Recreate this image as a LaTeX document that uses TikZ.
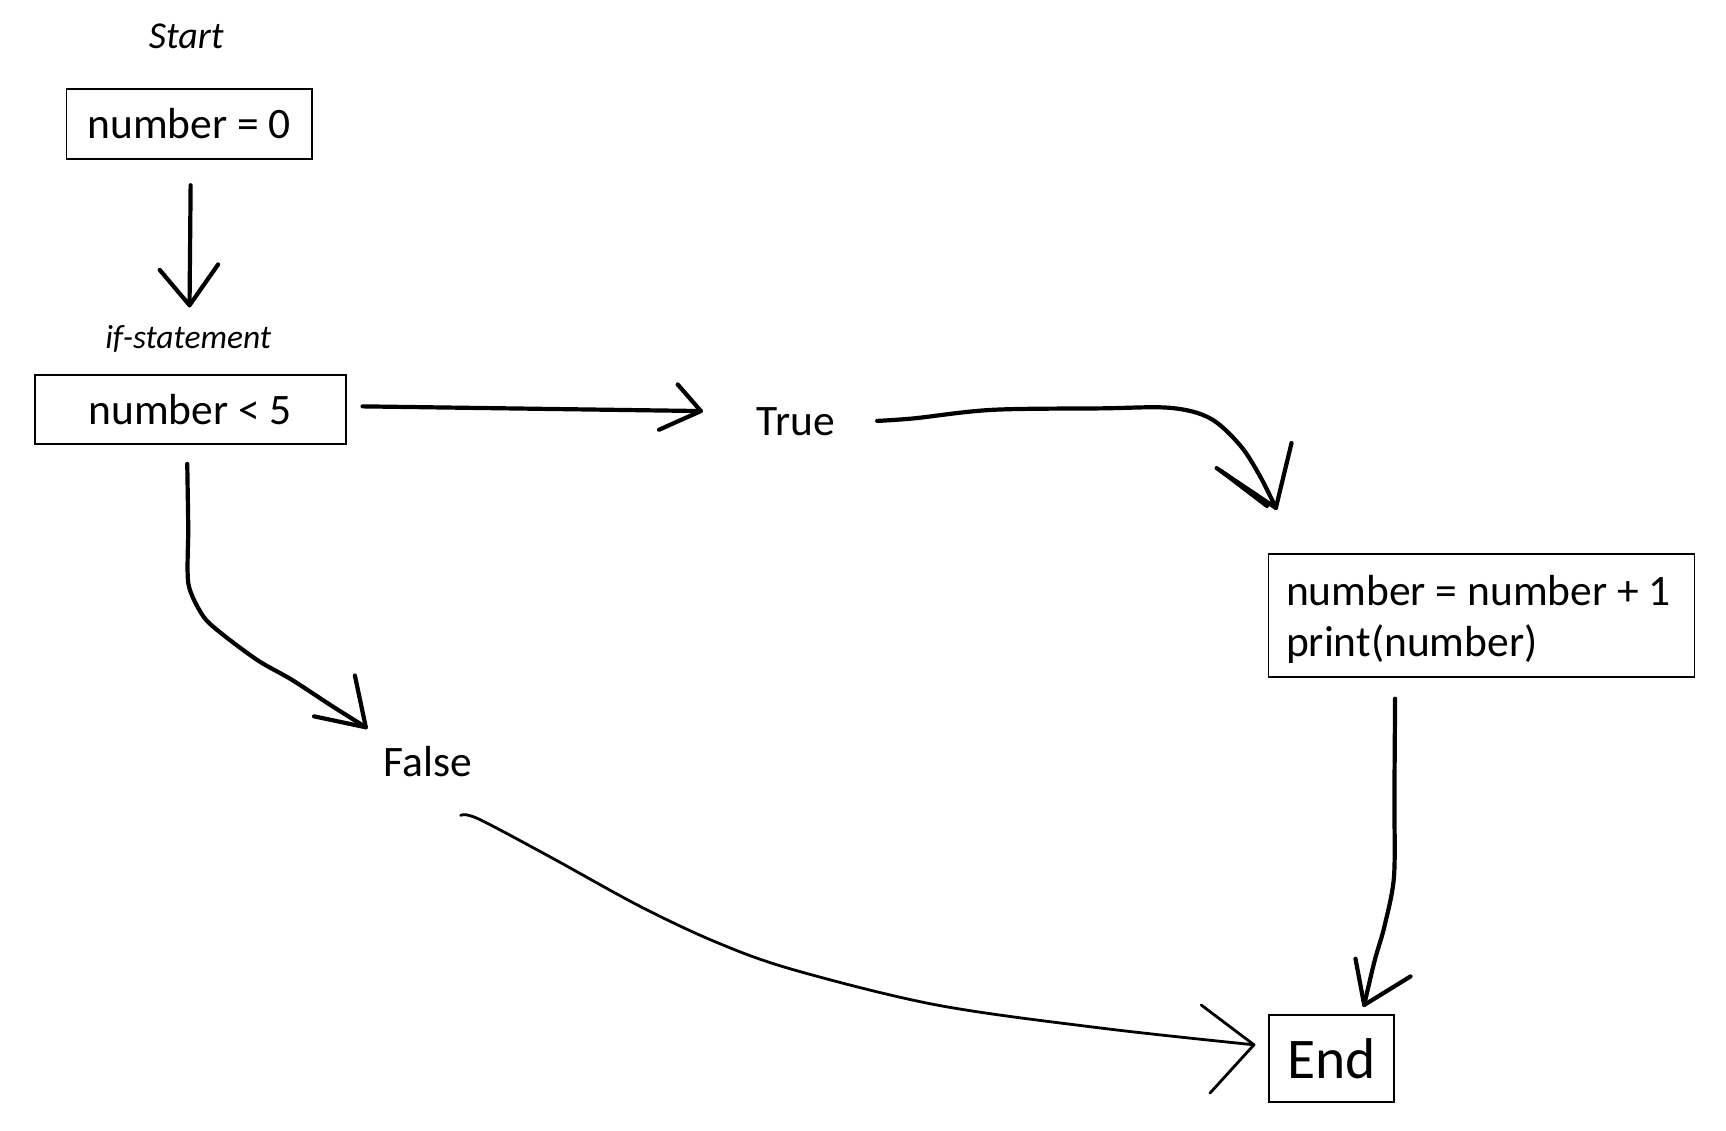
\documentclass[tikz,border=0pt]{standalone}
\usepackage{fontspec}
\setmainfont{Carlito}
\begin{document}
\begin{tikzpicture}[x=1pt,y=-1pt,
  box/.style={draw, line width=1.8pt, inner sep=0pt, font=\fontsize{43.5}{51}\selectfont},
  lbl/.style={inner sep=0pt, font=\fontsize{43.5}{51}\selectfont},
  note/.style={inner sep=0pt, font=\fontsize{36}{42}\selectfont\itshape},
  hand/.style={line width=4.2pt, line cap=round, line join=round},
  thin hand/.style={line width=2.8pt, line cap=round, line join=round}]
\useasboundingbox[fill=white] (0,0) rectangle (1726,1130);
\begin{scope}[scale=0.996]
% nodes
\node[note, font=\fontsize{38}{42}\selectfont\itshape] (start) at (187,36.5) {Start};
\node[note, font=\fontsize{33.5}{42}\selectfont\itshape] (ifs) at (189,340.5) {if-statement};
\node[box, minimum width=245.6pt, minimum height=69.7pt] (n0) at (190,124.5) {number = 0};
\node[box, minimum width=311pt, minimum height=69pt] (cond) at (190.9,411) {number < 5};
\node[lbl] (true) at (799,423.7) {True};
\node[box, minimum height=123pt, minimum width=426pt, inner xsep=14pt, align=left] (inc) at (1487.5,618)
  {\raisebox{0pt}[51pt][0pt]{number = number + 1}\\\raisebox{0pt}[0pt][21pt]{print(number)}\hspace*{139.6pt}};
\node[lbl] (false) at (429.3,764.5) {False};
\node[box, font=\fontsize{57.5}{66}\selectfont, minimum width=125pt, minimum height=87.4pt] (end) at (1337,1062.7) {End};

% arrow n0 -> cond
\coordinate (a1s) at (191.4,186);
\coordinate (a1t) at (190.3,306.5);
\draw[hand] (a1s) -- (a1t);
\draw[hand] (160.4,271) -- (a1t) -- (219,265.5);

% arrow cond -> True
\coordinate (a2s) at (364,408);
\coordinate (a2t) at (703.7,412.7);
\draw[hand] (a2s) -- (a2t);
\draw[hand] (680.4,386) -- (a2t) -- (661.6,431.5);

% arrow True -> inc
\coordinate (a3s) at (880.7,422.6);
\coordinate (a3t) at (1281,510);
\draw[hand] plot[smooth, tension=0.55] coordinates {(a3s) (918,420) (996,411.5) (1106,410) (1175,409.5) (1215,420) (1245,447) (1265,478) (a3t)};
\draw[hand] (1221.5,470) -- (a3t) -- (1296.7,444.8);
\draw[hand] (1226,473) -- (1272,508);

% arrow inc -> end
\coordinate (a4s) at (1400.7,701.5);
\coordinate (a4t) at (1369.7,1009);
\draw[hand] plot[smooth, tension=0.5] coordinates {(a4s) (1400,800) (1399.6,880) (1390,930) (1380,965) (a4t)};
\draw[hand] (1360.9,962.6) -- (a4t) -- (1416.2,980.3);

% arrow cond -> False
\coordinate (a5s) at (188,465.8);
\coordinate (a5t) at (367.3,730.2);
\draw[hand] plot[smooth, tension=0.45] coordinates {(a5s) (189,530) (189.2,586.4) (204.7,619.6) (226.8,639.5) (260,663.8) (293.2,682.6) (332,708) (a5t)};
\draw[hand] (356.3,678.2) -- (a5t) -- (315.3,719.2);

% arrow False -> end
\coordinate (a6s) at (462.5,818.7);
\coordinate (a6t) at (1259,1049);
\draw[thin hand] plot[smooth, tension=0.55] coordinates {(a6s) (480,822) (553.2,860.8) (641.7,909.5) (719.2,946) (796.6,973.6) (940.4,1009) (1106.4,1032.3) (a6t)};
\draw[thin hand] (1206,1009) -- (a6t) -- (1214.8,1097.5);
\end{scope}
\end{tikzpicture}
\end{document}
